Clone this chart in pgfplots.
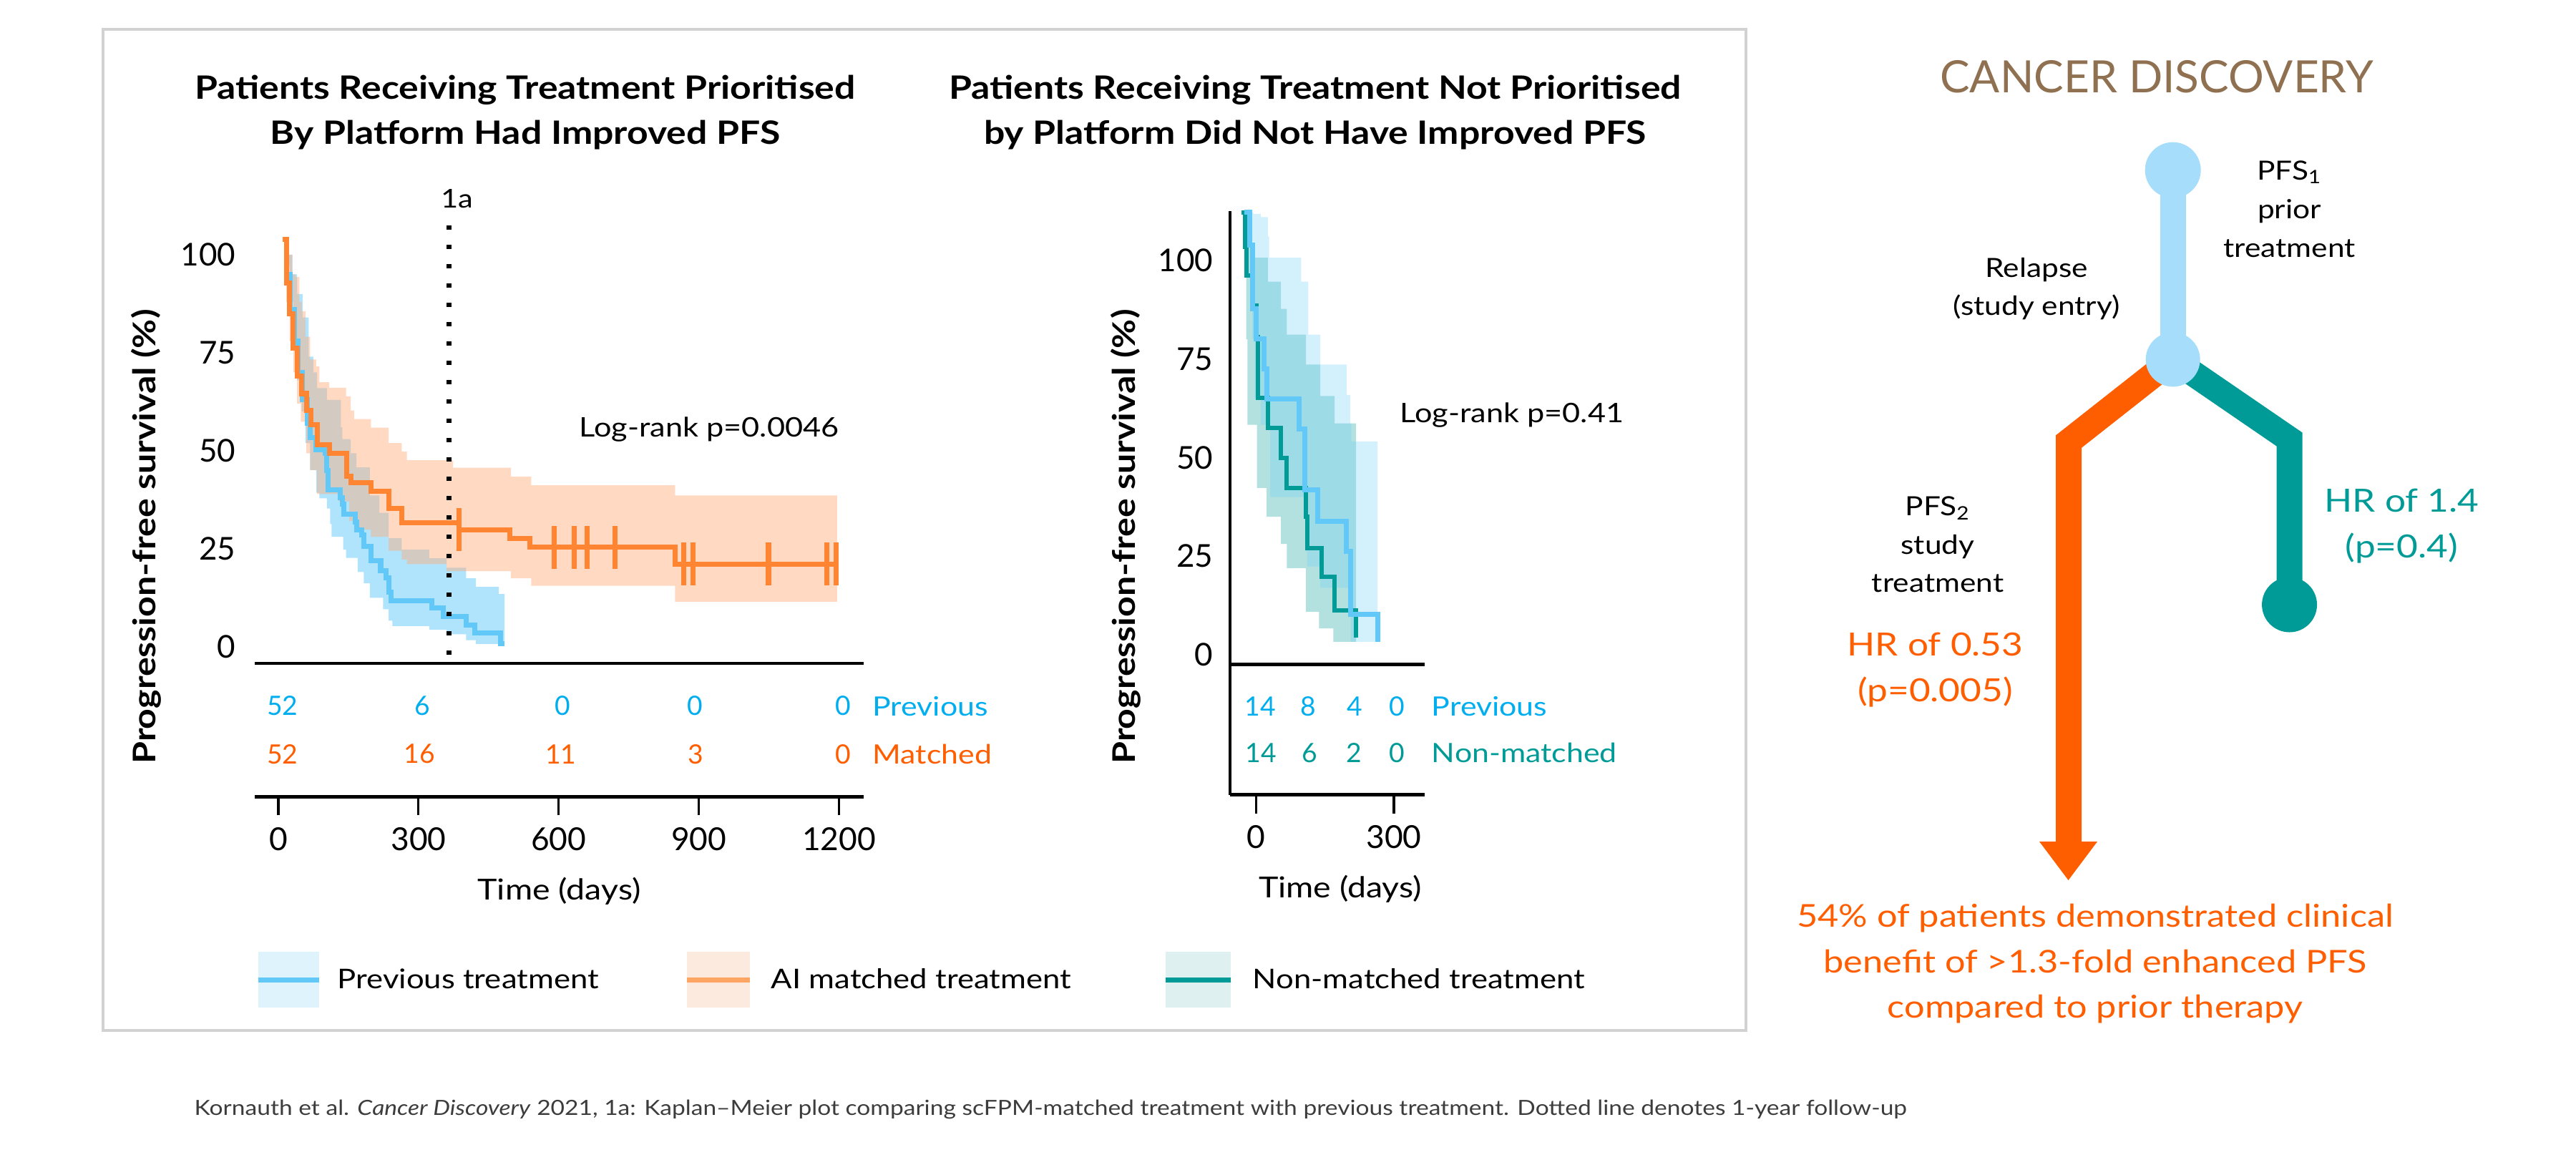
\documentclass[border=0pt]{standalone}
\usepackage{fontspec}
\setmainfont{Lato}[FakeStretch=1.15]
\newfontfamily\numfont{Lato}
\usepackage{pgfplots}
\pgfplotsset{compat=1.18}
\definecolor{blueLine}{RGB}{98,200,248}
\definecolor{blueBand}{RGB}{110,205,250}
\definecolor{blueText}{RGB}{0,174,239}
\definecolor{orangeLine}{RGB}{255,133,51}
\definecolor{orangeBand}{RGB}{255,170,120}
\definecolor{orangeText}{RGB}{255,94,0}
\definecolor{tealC}{RGB}{0,155,150}
\definecolor{nodeBlue}{RGB}{166,221,250}
\definecolor{brownC}{RGB}{143,112,80}
\definecolor{frameGray}{RGB}{210,210,210}
\definecolor{capGray}{RGB}{60,60,60}
\definecolor{swBlue}{RGB}{222,243,252}
\definecolor{swOrange}{RGB}{253,234,222}
\definecolor{swTeal}{RGB}{222,240,240}
\definecolor{swOrangeLine}{RGB}{255,165,100}
\newcommand\fs[2]{\fontsize{#1}{#2}\selectfont}
\pgfplotsset{kmaxis/.style={scale only axis, clip=false, axis line style={-},
  /pgf/number format/assume math mode=true, /pgf/number format/1000 sep={}}}

\begin{document}
\begin{tikzpicture}
\path[use as bounding box] (0,0) rectangle (360mm,-163.4mm);
\begin{scope}[x=0.1mm,y=-0.1mm]
\draw[frameGray, line width=1pt] (144,41) rectangle (2440,1440);
% titles
\node[font=\bfseries\fs{12.8}{15}] at (734,126) {Patients Receiving Treatment Prioritised};
\node[font=\bfseries\fs{12.8}{15}] at (734,189) {By Platform Had Improved PFS};
\node[font=\bfseries\fs{12.8}{15}] at (1838,126) {Patients Receiving Treatment Not Prioritised};
\node[font=\bfseries\fs{12.8}{15}] at (1838,189) {by Platform Did Not Have Improved PFS};
% y labels
\node[font=\bfseries\fs{12.4}{15}, rotate=90] at (204,750) {Progression-free survival (\%)};
\node[font=\bfseries\fs{12.4}{15}, rotate=90] at (1573,750) {Progression-free survival (\%)};
% annotations
\node[font=\fs{10.3}{12}] at (639,278) {1a};
\node[font=\fs{10.7}{12}, anchor=west, inner sep=0pt] at (809,600) {Log-rank p=0.0046};
\node[font=\fs{10.7}{12}, anchor=west, inner sep=0pt] at (1956,580) {Log-rank p=0.41};
% legend
\fill[swBlue] (361,1330) rectangle (446,1408);
\draw[blueLine, line width=0.7mm] (361,1369) -- (446,1369);
\node[font=\fs{10.8}{13}, anchor=west, inner sep=0pt] at (471,1368) {Previous treatment};
\fill[swOrange] (960,1330) rectangle (1048,1408);
\draw[swOrangeLine, line width=0.7mm] (960,1369) -- (1048,1369);
\node[font=\fs{10.8}{13}, anchor=west, inner sep=0pt] at (1077,1368) {AI matched treatment};
\fill[swTeal] (1629,1330) rectangle (1720,1408);
\draw[tealC, line width=0.7mm] (1629,1369) -- (1720,1369);
\node[font=\fs{10.8}{13}, anchor=west, inner sep=0pt] at (1750,1368) {Non-matched treatment};
% caption
\node[font=\fs{8.3}{10}, text=capGray, anchor=west, inner sep=0pt] at (271,1550) {Kornauth et al. \textit{Cancer Discovery} 2021, 1a: Kaplan–Meier plot comparing scFPM-matched treatment with previous treatment. Dotted line denotes 1-year follow-up};
\end{scope}

% ---------------- Chart 1 ----------------
\begin{axis}[kmaxis, at={(35.6mm,-92.7mm)}, anchor=south west, width=85.1mm, height=62.58mm,
  xmin=-50.5, xmax=1252.7, ymin=-4.2, ymax=110,
  axis x line*=bottom, axis y line*=left,
  x axis line style={line width=1.3pt}, y axis line style={draw=none},
  xtick=\empty, ytick={0,25,50,75,100}, major tick length=0pt,
  yticklabel style={font=\numfont\fs{12.5}{14}, anchor=east, inner sep=0pt, xshift=-2.6mm}]
% previous-treatment CI band (upper steps, then lower steps backwards)
\addplot[const plot, fill=blueBand, fill opacity=0.55, draw=none] coordinates {(10,104) (20,100) (30,95) (40,90) (52,84) (65,74) (75,70) (83,66) (104,63) (134,56) (137,53) (155,49.4) (167,45.8) (196,38.6) (216,34.2) (236,27.7) (264,24.8) (323,22.6) (360,20.2) (402,17.5) (423,15.3) (472,13.5) (484,13.5)
 (484,0.75) (423,1.7) (402,3.2) (360,4.4) (323,5.3) (244,6.7) (236,9.6) (224,12.5) (196,16.2) (183,19.1) (170,22.7) (145,24.8) (139,28.1) (114,31.3) (111,35.3) (104,37.9) (88,39.3) (81,45.1) (68,52) (58,60) (50,68) (40,78) (32,88) (24,97) (16,104) (10,104)};
% matched CI band
\addplot[const plot, fill=orangeBand, fill opacity=0.45, draw=none] coordinates {(9,104) (20,100) (30,95) (37,94.3) (45,88) (50,85.6) (58,79.1) (68,73.3) (81,71.5) (88,67.5) (109,66.1) (145,63.9) (155,60.3) (162,58.1) (198,55.9) (236,52) (264,49.8) (275,47.6) (374,45.7) (498,43.4) (541,41.2) (849,38.6) (1196,38.6)
 (1196,11.5) (849,15.6) (541,17.5) (498,19.3) (360,21.1) (275,22.3) (264,24.5) (236,28.1) (198,29.9) (165,32.1) (152,37.1) (129,39) (83,45.1) (68,49.4) (60,57.4) (48,62) (40,70) (32,78) (24,88) (17,96) (13,104) (9,104)};
\addplot[const plot, blueLine, line width=2pt] coordinates {(10,104) (18,95) (26,86) (34,78) (42,70) (52,63) (62,57) (68,53.4) (80,50.2) (101,49.4) (104,45) (106,40) (132,38) (137,36.4) (140,33.9) (165,31.9) (168,29.9) (178,28.5) (183,25.6) (198,22) (219,19.5) (231,17.6) (236,14) (241,11.8) (329,9.9) (353,7.7) (402,5.6) (420,3.5) (475,0.75) (484,0.75)};
\addplot[const plot, orangeLine, line width=2pt] coordinates {(9,104) (17,92.8) (24.5,84.9) (32,76.2) (40,69) (50,64.6) (60,60.3) (70,56.7) (83,51.6) (109,49.4) (147,43.6) (155,41.8) (198,39.7) (236,35.3) (264,31.7) (386,29.9) (496,27.6) (539,25.4) (849,21.1) (1195,21.1)};
\addplot[only marks, mark=|, mark size=8.5pt, orangeLine, line width=2pt] coordinates {(386,29.9) (591,25.4) (633,25.4) (661,25.4) (720,25.4) (867,21.1) (888,21.1) (1049,21.1) (1174,21.1) (1193,21.1)};
\addplot[black, line width=2pt, dash pattern=on 0.55mm off 2.15mm] coordinates {(365,107.4) (365,-4.2)};
\end{axis}

\begin{axis}[kmaxis, at={(35.6mm,-111.33mm)}, anchor=south west, width=85.1mm, height=18.63mm,
  xmin=-50.5, xmax=1252.7, ymin=0, ymax=1,
  axis x line*=bottom, axis y line=none,
  x axis line style={line width=1.3pt},
  xtick={0,300,600,900,1200}, ytick=\empty, tick align=outside, major tick length=2.6mm,
  xtick style={line width=0.9pt, black},
  xticklabel style={font=\numfont\fs{12.6}{14}, inner sep=0pt, yshift=-1.6mm},
  xlabel={Time (days)}, xlabel style={font=\fs{11.5}{13}, at={(axis description cs:0.5,0)}, anchor=center, yshift=-13.2mm}]
\begin{scope}[font=\numfont\fs{10.6}{12}, text=blueText]
\node at (axis cs:8.9,0.68) {52};
\node at (axis cs:307.8,0.68) {6};
\node at (axis cs:608.7,0.68) {0};
\node at (axis cs:892.3,0.68) {0};
\node at (axis cs:1208.7,0.68) {0};
\end{scope}
\node[anchor=west, inner sep=0pt, font=\fs{10.6}{12}, text=blueText] at (axis cs:1270.8,0.68) {Previous};
\begin{scope}[font=\numfont\fs{10.6}{12}, text=orangeText]
\node at (axis cs:8.9,0.32) {52};
\node at (axis cs:301.7,0.32) {16};
\node at (axis cs:604.9,0.32) {11};
\node at (axis cs:893.4,0.32) {3};
\node at (axis cs:1208.7,0.32) {0};
\end{scope}
\node[anchor=west, inner sep=0pt, font=\fs{10.6}{12}, text=orangeText] at (axis cs:1270.8,0.32) {Matched};
\end{axis}

% ---------------- Chart 2 ----------------
\begin{axis}[kmaxis, at={(171.9mm,-92.85mm)}, anchor=south west, width=27.2mm, height=63.35mm,
  xmin=-57, xmax=367, ymin=-2.45, ymax=112.5,
  axis x line*=bottom, axis y line*=left,
  axis line style={line width=1.3pt},
  xtick=\empty, ytick={0,25,50,75,100}, major tick length=0pt,
  yticklabel style={font=\numfont\fs{12.5}{14}, anchor=east, inner sep=0pt, xshift=-2.3mm}]
% non-matched CI band
\addplot[const plot, fill=tealC, fill opacity=0.3, draw=none] coordinates {(-32,112.2) (-24,110) (-21.6,106) (-8.6,103) (-3.4,100.7) (25.2,94.6) (53.8,87.7) (66.8,81.2) (108.4,73.6) (139.6,65.6) (170.8,58.7) (217.6,58.7)
 (217.6,3.3) (168,6.7) (137,10.9) (108.4,22) (66.8,28.1) (53.8,35) (22.6,42.3) (1.8,58.3) (-19,80) (-21.6,96) (-24,112.2) (-32,112.2)};
% previous CI band
\addplot[const plot, fill=blueBand, fill opacity=0.3, draw=none] coordinates {(-26,112.2) (-6,111.8) (9.6,111) (25.2,106.1) (28,100.7) (98,94.6) (113.6,81.2) (139.6,73.6) (196.8,65.9) (204.6,58.7) (207.2,54.1) (264.4,54.1)
 (264.4,3.3) (206,17) (139.6,22.4) (111,26.2) (108.4,40) (30.4,58.3) (9.6,65) (-3.4,80.1) (-8.6,95) (-13.8,112.2) (-26,112.2)};
\addplot[const plot, tealC, line width=1.7pt] coordinates {(-32,112.2) (-24,103.4) (-21.6,96.1) (-8,88.5) (1,80.5) (4.4,65.2) (25.2,57.6) (53.8,49.9) (66.8,42.3) (108.4,35) (111,27) (142.2,19.7) (170.8,11.3) (217.6,4.4)};
\addplot[const plot, blueLine, line width=2pt] coordinates {(-26,112.2) (-13.8,103.8) (-8.6,87.7) (-0.8,80.1) (17.4,72.5) (22.6,64.8) (92.8,57.2) (106,41.9) (134.4,33.9) (197,26.2) (206,10.2) (264.4,3.3)};
\end{axis}

\begin{axis}[kmaxis, at={(171.9mm,-111.07mm)}, anchor=south west, width=27.2mm, height=18.22mm,
  xmin=-57, xmax=367, ymin=0, ymax=1,
  axis x line*=bottom, axis y line*=left,
  axis line style={line width=1.3pt},
  xtick={0,300}, ytick=\empty, tick align=outside, major tick length=2.6mm,
  xtick style={line width=0.9pt, black},
  xticklabel style={font=\numfont\fs{12.6}{14}, inner sep=0pt, yshift=-1.6mm},
  xlabel={Time (days)}, xlabel style={font=\fs{11.5}{13}, at={(axis description cs:0.5,0)}, anchor=center, yshift=-13.2mm, xshift=1.8mm}]
\begin{scope}[font=\numfont\fs{10.6}{12}, text=blueText]
\node at (axis cs:8.6,0.68) {14};
\node at (axis cs:113,0.68) {8};
\node at (axis cs:214.5,0.68) {4};
\node at (axis cs:306.6,0.68) {0};
\end{scope}
\node[anchor=west, inner sep=0pt, font=\fs{10.6}{12}, text=blueText] at (axis cs:381.4,0.68) {Previous};
\begin{scope}[font=\numfont\fs{10.6}{12}, text=tealC]
\node at (axis cs:10.1,0.32) {14};
\node at (axis cs:116.2,0.32) {6};
\node at (axis cs:213,0.32) {2};
\node at (axis cs:306.6,0.32) {0};
\end{scope}
\node[anchor=west, inner sep=0pt, font=\fs{10.6}{12}, text=tealC] at (axis cs:381.4,0.32) {Non-matched};
\end{axis}

% ---------------- Right panel ----------------
\begin{scope}[x=0.1mm,y=-0.1mm]
\node[font=\numfont\fs{17.7}{20}, text=brownC] at (3014,107) {CANCER DISCOVERY};
\draw[orangeText, line width=3.6mm, line join=miter] (3036.6,502.4) -- (2891,617) -- (2891,1180);
\fill[orangeText] (2850,1176) -- (2931,1176) -- (2890.5,1230) -- cycle;
\draw[tealC, line width=3.6mm, line join=miter] (3036.6,502.4) -- (3199.5,614) -- (3199.5,845);
\fill[tealC] (3199.5,845) circle[radius=3.85mm];
\draw[nodeBlue, line width=3.6mm] (3036.6,237.7) -- (3036.6,502.4);
\fill[nodeBlue] (3036.6,237.7) circle[radius=3.9mm];
\fill[nodeBlue] (3036.6,502.4) circle[radius=3.8mm];
\node[align=center, font=\fs{10.5}{15.4}] at (3199.5,292) {PFS\textsubscript{1}\\prior\\treatment};
\node[align=center, font=\fs{10.5}{15.2}] at (2846,403.5) {Relapse\\(study entry)};
\node[align=center, font=\fs{10.5}{15.2}] at (2708,761) {PFS\textsubscript{2}\\study\\treatment};
\node[align=center, font=\fs{12.7}{18.2}, text=orangeText] at (2704.5,936) {HR of 0.53\\(p=0.005)};
\node[align=center, font=\fs{12.7}{18.2}, text=tealC] at (3356.4,735) {HR of 1.4\\(p=0.4)};
\node[align=center, font=\fs{12.5}{18}, text=orangeText] at (2928,1346.7) {54\% of patients demonstrated clinical\\benefit of >1.3-fold enhanced PFS\\compared to prior therapy};
\end{scope}
\end{tikzpicture}
\end{document}
